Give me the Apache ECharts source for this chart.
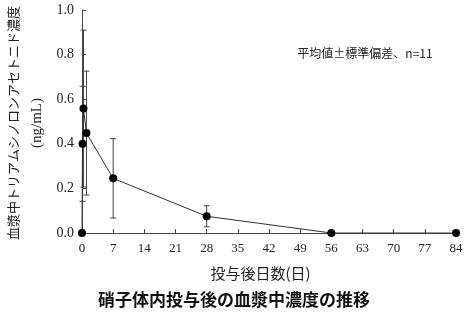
<!DOCTYPE html>
<html><head><meta charset="utf-8">
<script src="https://cdn.jsdelivr.net/npm/echarts@6/dist/echarts.min.js"></script>
<style>html,body{margin:0;padding:0;background:#fff}#c{width:468px;height:317px}</style>
</head><body><div id="c"></div>
<script>
var days = [0, 0.125, 0.33, 1, 7, 28, 56, 84];
var means = [0, 0.40, 0.558, 0.448, 0.245, 0.075, 0, 0];
var sds = [0, 0.258, 0.352, 0.278, 0.178, 0.047, 0, 0];
var xTicks = [0, 7, 14, 21, 28, 35, 42, 49, 56, 63, 70, 77, 84];
var yTicks = [0.0, 0.2, 0.4, 0.6, 0.8, 1.0];
var title = '硝子体内投与後の血漿中濃度の推移';
var xName = '投与後日数(日)';
var yName1 = '血漿中トリアムシノロンアセトニド濃度';
var yName2 = '(ng/mL)';
var note = '平均値±標準偏差、n=11';

var serif = 'Liberation Serif';
var cjk = 'Noto Sans CJK JP';
var lineData = days.map(function(d,i){return [d, means[i]];});
var errData = days.map(function(d,i){return [d, means[i]-sds[i], means[i]+sds[i]];}).filter(function(e,i){return sds[i]>0;});

var chart = echarts.init(document.getElementById('c'));
chart.setOption({
  animation:false,
  grid:{left:82,right:12,top:10,bottom:84,containLabel:false},
  title:{text:title,left:'center',top:286,textStyle:{fontFamily:cjk,fontSize:17,fontWeight:'bold',color:'#111'}},
  xAxis:{type:'value',min:0,max:84,interval:7,
    name:xName,nameLocation:'middle',nameGap:33,
    nameTextStyle:{fontFamily:cjk,fontSize:15,color:'#222',padding:[0,17,0,0]},
    axisLine:{lineStyle:{color:'#444',width:1}},
    axisTick:{inside:true,length:4,lineStyle:{color:'#444'}},
    axisLabel:{fontFamily:serif,fontSize:13,color:'#222',margin:9},
    splitLine:{show:false}},
  yAxis:{type:'value',min:0,max:1,interval:0.2,
    axisLine:{show:true,lineStyle:{color:'#444',width:1}},
    axisTick:{show:true,inside:true,length:4,lineStyle:{color:'#444'}},
    axisLabel:{fontFamily:serif,fontSize:14,color:'#222',margin:8,formatter:function(v){return v.toFixed(1);}},
    splitLine:{show:false}},
  graphic:[
    {type:'text',x:7,y:123,rotation:Math.PI/2,style:{text:yName1,font:'13px Noto Sans CJK JP',fill:'#222',textAlign:'center',textVerticalAlign:'top'}},
    {type:'text',x:30,y:123,rotation:Math.PI/2,style:{text:yName2,font:'15px Liberation Serif',fill:'#222',textAlign:'center',textVerticalAlign:'top'}},
    {type:'text',x:365,y:53,style:{text:note,font:'12px Noto Sans CJK JP',fill:'#222',textAlign:'center',textVerticalAlign:'middle'}}
  ],
  series:[
    {type:'custom',data:errData,z:1,
     renderItem:function(params,api){
       var x=api.value(0),lo=api.value(1),hi=api.value(2);
       var p1=api.coord([x,lo]),p2=api.coord([x,hi]);var w=3;
       var st={stroke:'#444',lineWidth:1};
       return {type:'group',children:[
         {type:'line',shape:{x1:p1[0],y1:p1[1],x2:p2[0],y2:p2[1]},style:st},
         {type:'line',shape:{x1:p1[0]-w,y1:p1[1],x2:p1[0]+w,y2:p1[1]},style:st},
         {type:'line',shape:{x1:p2[0]-w,y1:p2[1],x2:p2[0]+w,y2:p2[1]},style:st}
       ]};
     }},
    {type:'line',data:lineData,z:3,symbol:'circle',symbolSize:8,
     lineStyle:{color:'#333',width:1},itemStyle:{color:'#000'}}
  ]
});
</script></body></html>
